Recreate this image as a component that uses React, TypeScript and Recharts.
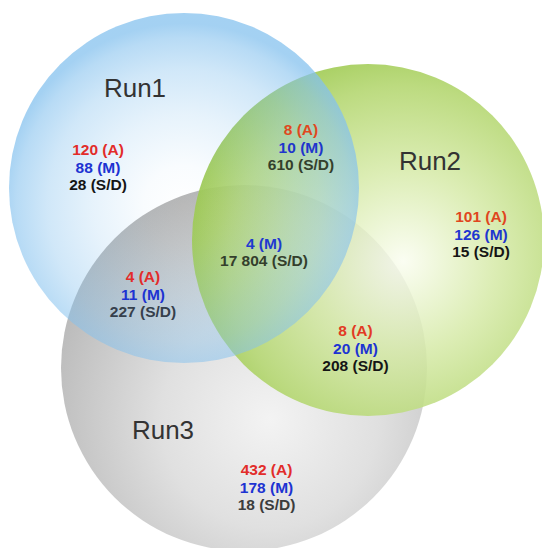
import React from 'react';
import { ScatterChart, Scatter, XAxis, YAxis } from 'recharts';

// ---- data ----
const setNames = ['Run1', 'Run2', 'Run3'];
const circleX = [184, 368, 244];
const circleY = [188, 240, 368];
const circleR = [175, 176, 183];
const titleX = [135, 430, 163];
const titleY = [88, 161, 430];

const regionNames = ['Run1', 'Run1∩Run2', 'Run2', 'Run1∩Run2∩Run3', 'Run1∩Run3', 'Run2∩Run3', 'Run3'];
const countA: (number | null)[] = [120, 8, 101, null, 4, 8, 432];
const countM: number[] = [88, 10, 126, 4, 11, 20, 178];
const countSD: number[] = [28, 610, 15, 17804, 227, 208, 18];
const regionX = [98, 301, 481, 264, 143, 355.5, 266.5];
const regionY = [167, 147, 234, 252, 294, 348, 487];

// ---- layout / style ----
const W = 542;
const H = 548;
const PX = 1; // px per unit (domain equals plot size)
const LINE_H = 17.5;
const FONT = '"Liberation Sans", Arial, Helvetica, sans-serif';

// per-region text colours [A, M, S/D]
const regionColors = [
  ['#e22c2a', '#1d33d2', '#151515'],
  ['#e0481e', '#1f36cc', '#34402c'],
  ['#e0461e', '#1f36d0', '#151515'],
  ['#e0461e', '#1f3ad0', '#343f2c'],
  ['#e22c2a', '#1d33d2', '#36404c'],
  ['#e23a24', '#1d33d2', '#151515'],
  ['#e22c2a', '#1d33d2', '#3c3c3c'],
];

// gray bottom, green middle, blue on top
const drawOrder = [2, 1, 0];
// each stop: [offset, colour, opacity]; 'tint' = fixed colour, 'comp' = compensated so the colour over white matches
const circleStyles = [
  {
    mode: 'tint', fx: 0.5, fy: 0.55, r: 0.52,
    stops: [
      [0, '#84c1ee', 0],
      [0.22, '#84c1ee', 0.05],
      [0.5, '#84c1ee', 0.2],
      [0.75, '#84c1ee', 0.38],
      [0.92, '#84c1ee', 0.58],
      [1, '#84c1ee', 0.74],
    ],
  },
  {
    mode: 'comp', fx: 0.6, fy: 0.56, r: 0.62,
    stops: [
      [0, '#fbfdf2', 0.84],
      [0.42, '#dcedb4', 0.86],
      [0.8, '#bcdb80', 0.9],
      [1, '#a4cd5c', 0.93],
    ],
  },
  {
    mode: 'comp', fx: 0.57, fy: 0.64, r: 0.66,
    stops: [
      [0, '#f3f3f3', 1],
      [0.45, '#e0e0e0', 1],
      [1, '#b6b6b6', 1],
    ],
  },
];

function hexToRgb(h: string) {
  const n = parseInt(h.slice(1), 16);
  return [(n >> 16) & 255, (n >> 8) & 255, n & 255];
}
function baseFor(hex: string, o: number) {
  if (o <= 0.05 || o >= 1) return hex;
  const c = hexToRgb(hex).map((v) => Math.max(0, Math.min(255, Math.round(255 - (255 - v) / o))));
  return `rgb(${c[0]},${c[1]},${c[2]})`;
}
function fmt(n: number) {
  return String(n).replace(/\B(?=(\d{3})+(?!\d))/g, ' ');
}

const circleData = drawOrder.map((i) => ({
  x: circleX[i],
  y: circleY[i],
  r: circleR[i],
  idx: i,
  name: setNames[i],
}));
const titleData = setNames.map((n, i) => ({ x: titleX[i], y: titleY[i], name: n }));
const regionData = regionNames.map((n, i) => ({
  x: regionX[i],
  y: regionY[i],
  name: n,
  idx: i,
  a: countA[i],
  m: countM[i],
  sd: countSD[i],
}));

const CircleShape = (props: any) => {
  const { cx, cy, payload } = props;
  const st = circleStyles[payload.idx];
  const id = `venn-grad-${payload.idx}`;
  const r = payload.r * PX;
  return (
    <g>
      <defs>
        <radialGradient id={id} cx={st.fx} cy={st.fy} r={st.r} fx={st.fx} fy={st.fy}>
          {st.stops.map((s: any, k: number) => (
            <stop
              key={k}
              offset={s[0]}
              stopColor={st.mode === 'comp' ? baseFor(s[1], s[2]) : s[1]}
              stopOpacity={s[2]}
            />
          ))}
        </radialGradient>
      </defs>
      <circle cx={cx} cy={cy} r={r} fill={`url(#${id})`} />
    </g>
  );
};

const TitleShape = (props: any) => {
  const { cx, cy, payload } = props;
  return (
    <text x={cx} y={cy} dy="0.35em" textAnchor="middle" fontFamily={FONT} fontSize={26} fill="#333333">
      {payload.name}
    </text>
  );
};

const RegionShape = (props: any) => {
  const { cx, cy, payload } = props;
  const cols = regionColors[payload.idx];
  const lines: { t: string; c: string }[] = [];
  if (payload.a != null) lines.push({ t: `${payload.a} (A)`, c: cols[0] });
  lines.push({ t: `${payload.m} (M)`, c: cols[1] });
  lines.push({ t: `${fmt(payload.sd)} (S/D)`, c: cols[2] });
  const start = cy - ((lines.length - 1) * LINE_H) / 2;
  return (
    <text textAnchor="middle" fontFamily={FONT} fontWeight="bold" fontSize={15.5}>
      {lines.map((l, i) => (
        <tspan key={i} x={cx} y={start + i * LINE_H} dy="0.36em" fill={l.c}>
          {l.t}
        </tspan>
      ))}
    </text>
  );
};

export default function App() {
  return (
    <div style={{ position: 'absolute', left: 0, top: 0, width: W, height: H, background: '#ffffff' }}>
      <ScatterChart width={W} height={H} margin={{ top: 0, right: 0, bottom: 0, left: 0 }}>
        <XAxis type="number" dataKey="x" domain={[0, W]} hide />
        <YAxis type="number" dataKey="y" domain={[0, H]} reversed hide />
        <Scatter data={circleData} shape={<CircleShape />} isAnimationActive={false} />
        <Scatter data={titleData} shape={<TitleShape />} isAnimationActive={false} />
        <Scatter data={regionData} shape={<RegionShape />} isAnimationActive={false} />
      </ScatterChart>
    </div>
  );
}
